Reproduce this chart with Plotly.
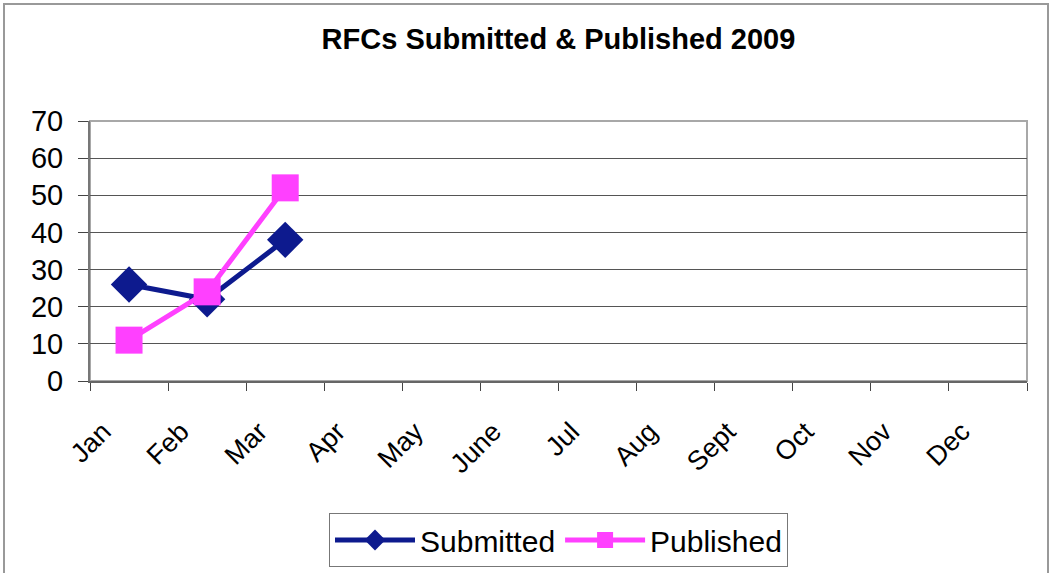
import plotly.graph_objects as go

months = ["Jan", "Feb", "Mar", "Apr", "May", "June", "Jul", "Aug", "Sept", "Oct", "Nov", "Dec"]
submitted_months = ["Jan", "Feb", "Mar"]
submitted = [26, 22, 38]
published_months = ["Jan", "Feb", "Mar"]
published = [11, 24, 52]
y_ticks = [0, 10, 20, 30, 40, 50, 60, 70]

FONT = "Liberation Sans, Arial, sans-serif"

fig = go.Figure()
fig.add_trace(go.Scatter(
    x=submitted_months, y=submitted, name="Submitted", mode="lines+markers",
    line=dict(color="#0d1a8e", width=5),
    marker=dict(symbol="diamond", size=28, color="#0d1a8e"),
))
fig.add_trace(go.Scatter(
    x=published_months, y=published, name="Published", mode="lines+markers",
    line=dict(color="#ff40ff", width=5),
    marker=dict(symbol="square", size=27, color="#ff40ff"),
))

L, R, T, B = 90, 24, 121, 192
W, H = 1051, 573
pw, ph = W - L - R, H - T - B

fig.update_layout(
    width=W, height=H,
    margin=dict(l=L, r=R, t=T, b=B, autoexpand=False),
    paper_bgcolor="white", plot_bgcolor="white",
    font=dict(family=FONT, color="black"),
    title=dict(text="<b>RFCs Submitted &amp; Published 2009</b>", x=0.5, xref="paper",
               xanchor="center", y=1 - 39 / H, yanchor="middle",
               font=dict(size=29, family=FONT)),
    xaxis=dict(
        type="category", categoryorder="array", categoryarray=months,
        range=[-0.5, 11.5], tickmode="array", tickvals=months, ticktext=months,
        tickson="boundaries", ticks="outside", ticklen=8, tickcolor="#444",
        tickangle=-45, tickfont=dict(size=27),
        ticklabelstandoff=22, ticklabelshift=-26,
        showgrid=False, showline=True, linecolor="#666", linewidth=2,
        mirror=False, zeroline=False, automargin=False,
    ),
    yaxis=dict(
        range=[0, 70], tickmode="array", tickvals=y_ticks,
        ticks="outside", ticklen=10, tickcolor="#444",
        tickfont=dict(size=29), ticklabelstandoff=9,
        showgrid=True, gridcolor="#555", gridwidth=1,
        showline=True, linecolor="#777", linewidth=2, zeroline=False,
        automargin=False,
    ),
    legend=dict(
        orientation="h", x=0.5, xanchor="center", y=(381 - 513) / ph, yanchor="top",
        bordercolor="#777", borderwidth=1, font=dict(size=30),
        itemwidth=80,
    ),
    showlegend=True,
    shapes=[
        # plot area frame (top & right)
        dict(type="rect", xref="paper", yref="paper", x0=0, x1=1, y0=0, y1=1,
             line=dict(color="#a8a8a8", width=2), layer="below"),
        # outer chart frame
        dict(type="rect", xref="paper", yref="paper",
             x0=(4 - L) / pw, x1=(W - 3 - L) / pw,
             y0=-(H + 5 - (H - B)) / ph, y1=1 + (T - 4) / ph,
             line=dict(color="#999", width=2)),
    ],
)

fig.write_html("out.html", config={"displayModeBar": False},
               post_script="document.body.style.margin='0';")
